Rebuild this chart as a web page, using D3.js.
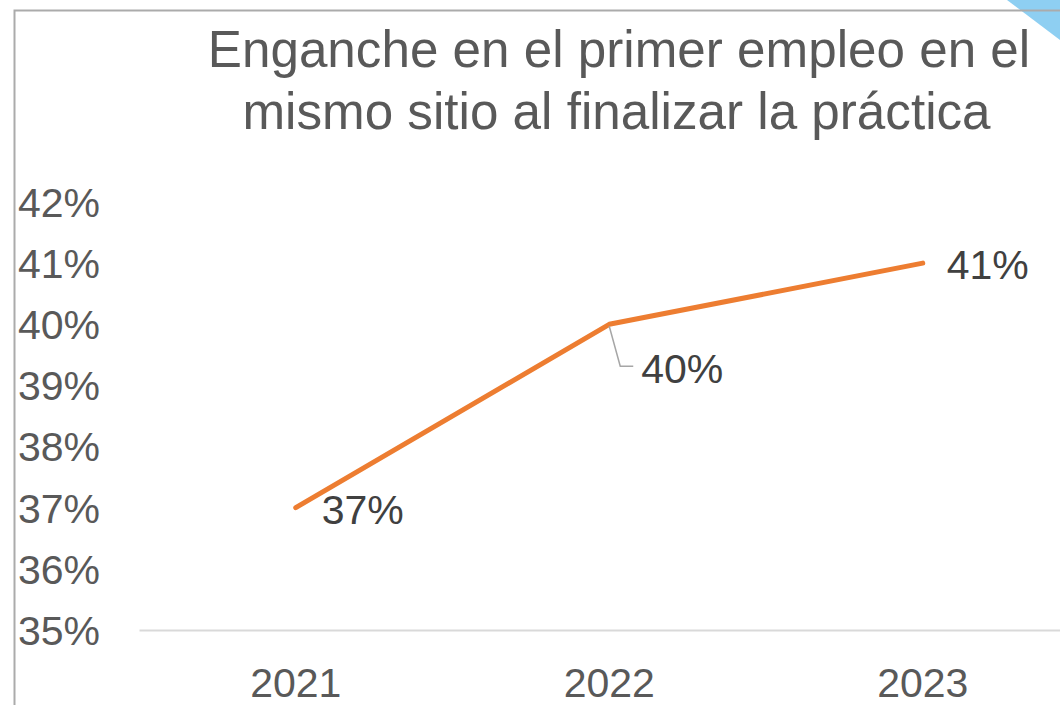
<!DOCTYPE html>
<html><head><meta charset="utf-8">
<script src="https://cdn.jsdelivr.net/npm/d3@7"></script>
<style>html,body{margin:0;padding:0;background:#fff;overflow:hidden}</style>
</head><body>
<svg id="c" width="1060" height="705"></svg>
<script>
const years = ["2021", "2022", "2023"];
const values = [0.37, 0.40, 0.41];
const yTicks = [0.35, 0.36, 0.37, 0.38, 0.39, 0.40, 0.41, 0.42];
const titleLines = ["Enganche en el primer empleo en el", "mismo sitio al finalizar la práctica"];

const svg = d3.select("#c");
const font = "Liberation Sans, Arial, sans-serif";

// decorative corner shape
svg.append("path").attr("d", "M1007,0 L1060,40 L1060,0 Z").attr("fill", "#8ecff2");
// chart border
svg.append("path").attr("d", "M14.5,705 L14.5,10.5 L1060,10.5").attr("fill", "none")
  .attr("stroke", "#ababab").attr("stroke-width", 2);

const x = d3.scaleBand().domain(years).range([139, 1079.5]);
const y = d3.scaleLinear().domain([0.35, 0.42]).range([630, 202]);
const fmt = d3.format(".0%");

// title
svg.append("g").selectAll("text").data(titleLines).join("text")
  .attr("x", (d, i) => i === 0 ? 619 : 616.5).attr("y", (d, i) => 67 + i * 62)
  .attr("text-anchor", "middle")
  .attr("font-family", font).attr("font-size", 51.2)
  .attr("fill", "#595959").text(d => d);

// y axis labels
const yAxis = d3.axisLeft(y).tickValues(yTicks).tickFormat(fmt).tickSize(0).tickPadding(0);
const gy = svg.append("g").attr("transform", "translate(100,0)").call(yAxis);
gy.select(".domain").remove();
gy.selectAll("text").attr("font-family", font).attr("font-size", 41).attr("fill", "#595959")
  .attr("dy", "0.35em");

// x axis
const xAxis = d3.axisBottom(x).tickSize(0).tickPadding(0);
const gx = svg.append("g").attr("transform", "translate(0,630)").call(xAxis);
gx.select(".domain").attr("stroke", "#d9d9d9").attr("stroke-width", 2);
gx.selectAll("text").attr("font-family", font).attr("font-size", 41).attr("fill", "#595959")
  .attr("dy", "0").attr("y", 67);

// line
const pts = years.map((d, i) => [x(d) + x.bandwidth() / 2, y(values[i])]);
svg.append("path").datum(pts).attr("d", d3.line()).attr("fill", "none")
  .attr("stroke", "#ed7d31").attr("stroke-width", 5).attr("stroke-linecap", "round")
  .attr("stroke-linejoin", "round");

// leader line for 2022 label
const p2 = pts[1];
svg.append("path").attr("d", `M${p2[0]},${p2[1] + 2} L${p2[0] + 11},${p2[1] + 42} L${p2[0] + 24},${p2[1] + 42}`)
  .attr("fill", "none").attr("stroke", "#a6a6a6").attr("stroke-width", 1.5);

// data labels
const offsets = [[26, 2], [32, 44], [24, 2]];
svg.append("g").selectAll("text").data(values).join("text")
  .attr("x", (d, i) => pts[i][0] + offsets[i][0])
  .attr("y", (d, i) => pts[i][1] + offsets[i][1])
  .attr("dy", "0.35em").attr("font-family", font).attr("font-size", 41)
  .attr("fill", "#404040").text(d => fmt(d));
</script>
</body></html>
